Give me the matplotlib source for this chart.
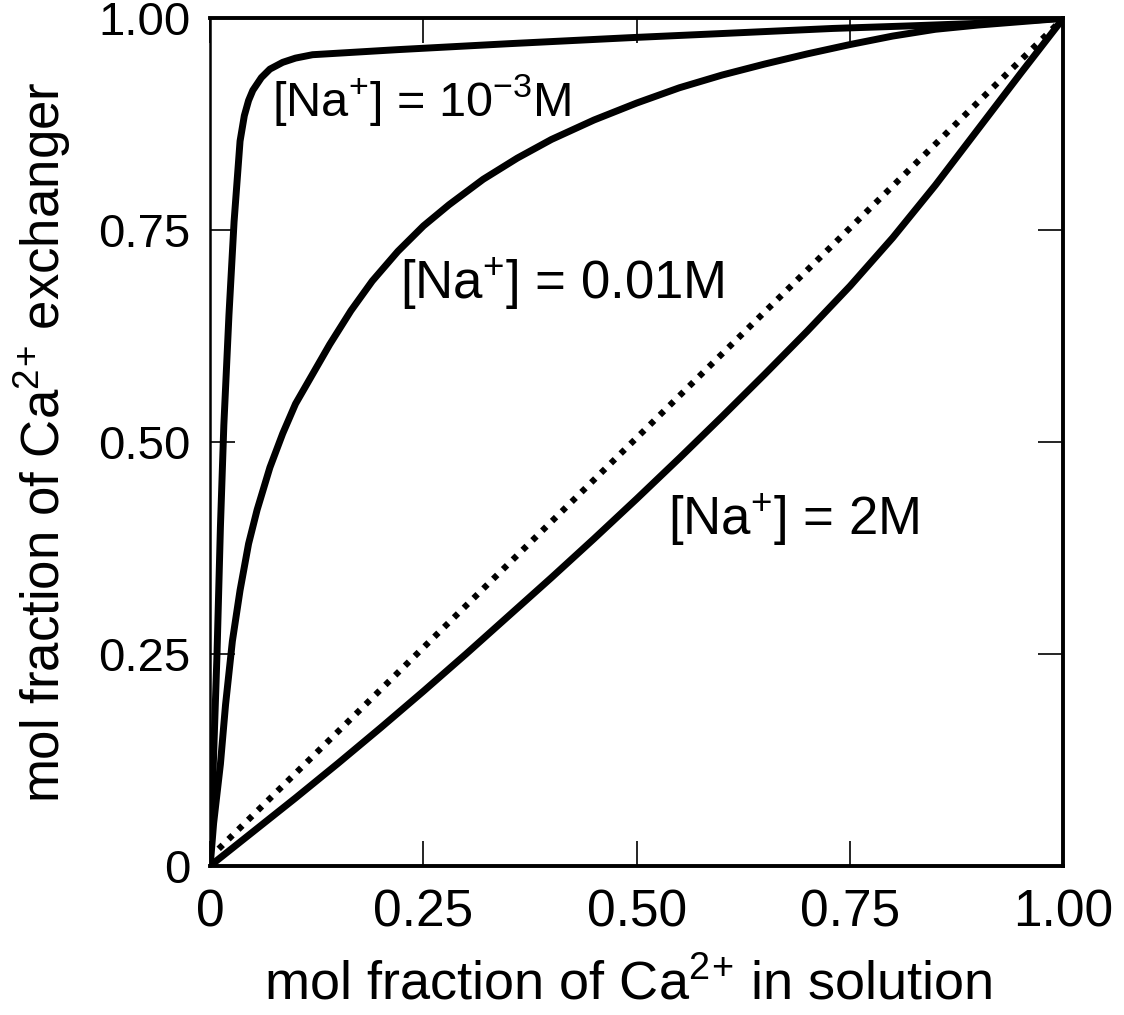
import matplotlib
matplotlib.use("Agg")
import matplotlib.pyplot as plt

plt.rcParams['font.family'] = ['Liberation Sans', 'DejaVu Sans']
plt.rcParams['mathtext.fontset'] = 'custom'
plt.rcParams['mathtext.rm'] = 'Liberation Sans'
plt.rcParams['mathtext.it'] = 'Liberation Sans'

# [Na+] = 10^-3 M
x_na_001m = [0, 0.003, 0.008, 0.012, 0.016, 0.022, 0.028, 0.035, 0.04, 0.045,
             0.05, 0.06, 0.07, 0.085, 0.1, 0.12, 0.22, 0.35, 0.49, 0.6,
             0.73, 0.82, 0.9, 1.0]
y_na_001m = [0, 0.1, 0.25, 0.4, 0.52, 0.65, 0.76, 0.855, 0.885, 0.903,
             0.915, 0.93, 0.94, 0.948, 0.953, 0.957, 0.963, 0.97, 0.977, 0.982,
             0.988, 0.991, 0.994, 1.0]

# [Na+] = 0.01 M
x_na_01m = [0, 0.004, 0.008, 0.012, 0.018, 0.026, 0.035, 0.045, 0.055, 0.07,
            0.085, 0.1, 0.12, 0.14, 0.165, 0.19, 0.22, 0.25, 0.28, 0.32,
            0.36, 0.4, 0.45, 0.5, 0.55, 0.6, 0.65, 0.7, 0.75, 0.8,
            0.85, 0.9, 0.95, 1.0]
y_na_01m = [0, 0.05, 0.085, 0.12, 0.19, 0.265, 0.325, 0.38, 0.42, 0.47,
            0.51, 0.545, 0.58, 0.615, 0.655, 0.69, 0.725, 0.755, 0.78, 0.81,
            0.835, 0.857, 0.88, 0.9, 0.918, 0.933, 0.946, 0.958, 0.969, 0.979,
            0.987, 0.992, 0.996, 1.0]

# [Na+] = 2 M
x_na_2m = [0, 0.05, 0.1, 0.15, 0.2, 0.25, 0.3, 0.35, 0.4, 0.45, 0.5,
           0.55, 0.6, 0.65, 0.7, 0.75, 0.8, 0.85, 0.9, 0.95, 1.0]
y_na_2m = [0, 0.04, 0.08, 0.121, 0.163, 0.206, 0.25, 0.295, 0.34, 0.386, 0.433,
           0.481, 0.53, 0.58, 0.631, 0.684, 0.741, 0.803, 0.869, 0.935, 1.0]

# no selectivity (dotted diagonal)
x_diag = [0.01, 1.0]
y_diag = [0.02, 1.0]

ticks = [0, 0.25, 0.5, 0.75, 1.0]
tick_labels = ['0', '0.25', '0.50', '0.75', '1.00']

fig = plt.figure(figsize=(11.24, 10.15), dpi=100)
ax = fig.add_axes([0.187, 0.147, 0.759, 0.835])

lw = 5
for xs, ys in [(x_na_001m, y_na_001m), (x_na_01m, y_na_01m), (x_na_2m, y_na_2m)]:
    ax.plot(xs, ys, color='black', lw=lw, solid_capstyle='round', solid_joinstyle='round')
ax.plot(x_diag, y_diag, color='black', lw=4.5, linestyle=(0, (0.9, 1.3)),
        dash_capstyle='butt')

ax.text(0.073, 0.903, r'[Na$^{+}$] = 10$^{-3}$M', fontsize=35, va='center', ha='left')
ax.text(0.223, 0.687, r'[Na$^{+}$] = 0.01M', fontsize=38, va='center', ha='left')
ax.text(0.537, 0.408, r'[Na$^{+}$] = 2M', fontsize=38, va='center', ha='left')

ax.set_xlim(0, 1)
ax.set_ylim(0, 1)
ax.set_xticks(ticks)
ax.set_xticklabels(tick_labels)
ax.set_yticks(ticks)
ax.set_yticklabels(tick_labels)
ax.tick_params(direction='in', length=18, width=1.2, top=True, right=True,
               color='black')
ax.tick_params(axis='x', pad=16, labelsize=37)
ax.tick_params(axis='y', pad=14, labelsize=34)

for side in ['top', 'right', 'bottom']:
    ax.spines[side].set_linewidth(2.8)
ax.spines['left'].set_linewidth(1.8)

ax.set_xlabel(r'mol fraction of Ca$^{2}$$^{+}$ in solution', fontsize=39, labelpad=16)
ax.set_ylabel(r'mol fraction of Ca$^{2}$$^{+}$ exchanger', fontsize=38, labelpad=18)
ax.xaxis.label.set_x(0.49)

plt.savefig('out.png', dpi=100)
